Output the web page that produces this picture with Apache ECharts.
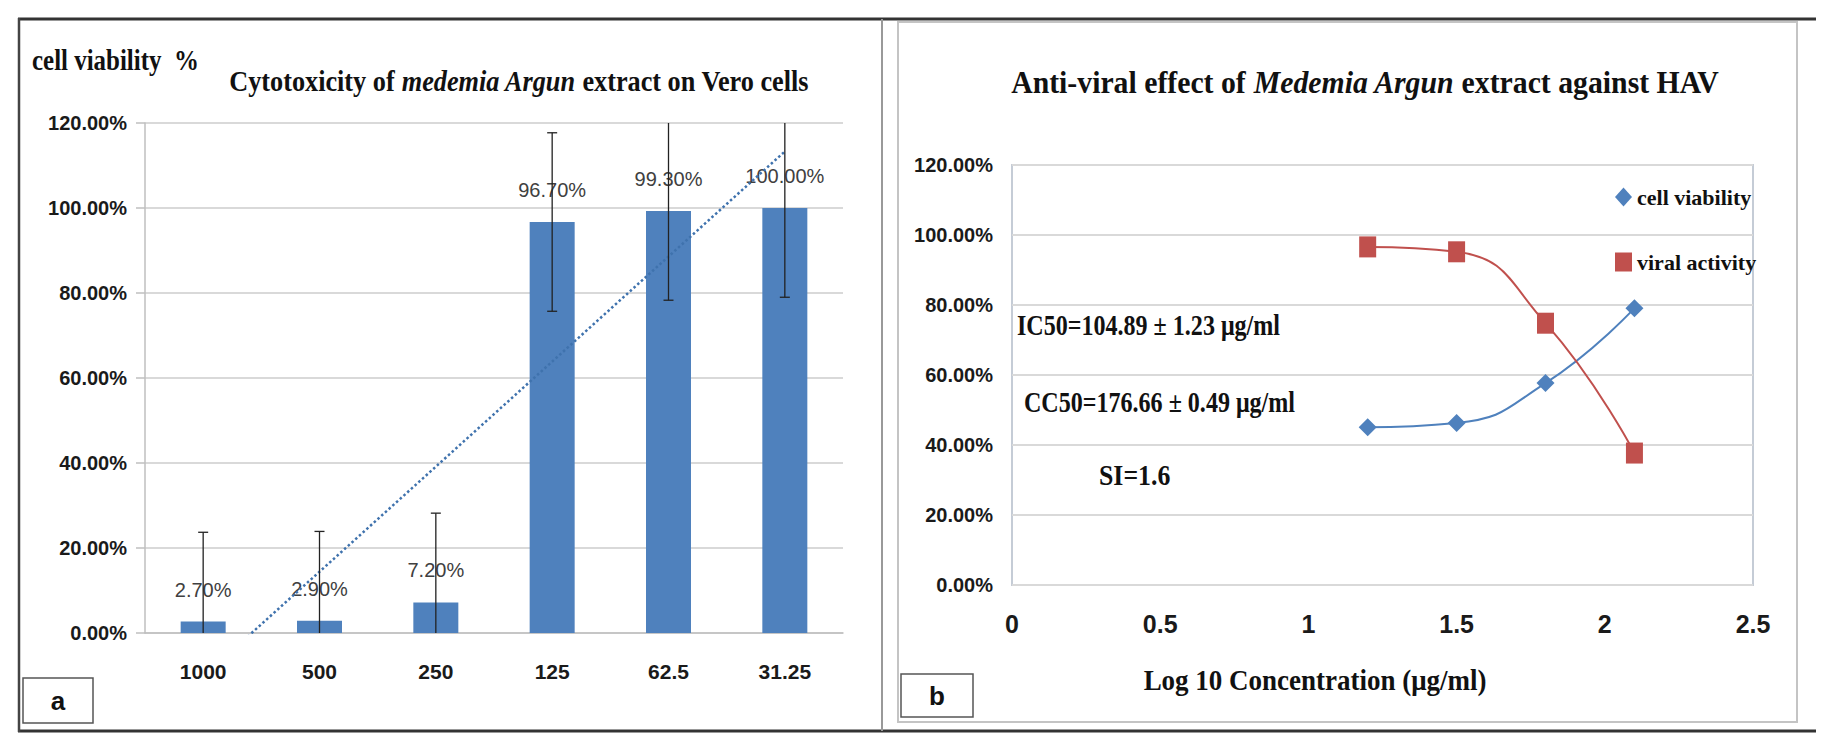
<!DOCTYPE html>
<html>
<head>
<meta charset="utf-8">
<title>Cytotoxicity and anti-viral effect</title>
<script src="https://cdn.jsdelivr.net/npm/echarts/dist/echarts.min.js"></script>
<style>
  html, body { margin: 0; padding: 0; background: #fff; }
  #main { width: 1831px; height: 750px; }
</style>
</head>
<body>
<div id="main"></div>
<script>
// panel a : cytotoxicity on Vero cells
var concLabels = ['1000', '500', '250', '125', '62.5', '31.25'];
var cellViability = [2.7, 2.9, 7.2, 96.7, 99.3, 100];
var errorSize = [21, 21, 21, 21, 21, 21];
// dotted linear trend line, end points (category index, %)
var trendX = [1, 6];
var trendY = [-10.3, 113.3];

// panel b : anti-viral effect against HAV
var logConc = [1.2, 1.5, 1.8, 2.1];
var viabilityPct = [45.1, 46.3, 57.7, 79.1];
var viralPct = [96.6, 95.2, 74.8, 37.7];

var SERIF = "'Liberation Serif', 'Times New Roman', serif";
var SANS = "'Liberation Sans', Arial, sans-serif";
var BLUE = '#4F81BD';
var RED = '#C0504D';

function pct(v) {
    return v.toFixed(2) + '%';
}

// text drawn as graphic so it can be squeezed like the original figure
function label(text, x, y, size, align, sx, rich) {
    return {
        type: 'text',
        x: x,
        y: y,
        scaleX: sx,
        z: 10,
        style: {
            text: text,
            fill: '#111',
            fontFamily: SERIF,
            fontWeight: 'bold',
            fontSize: size,
            align: align,
            textAlign: align,
            verticalAlign: 'middle',
            textVerticalAlign: 'middle',
            rich: rich
        }
    };
}

function titleRich(size) {
    return {
        n: { fontFamily: SERIF, fontWeight: 'bold', fontSize: size, fill: '#111', color: '#111' },
        i: { fontFamily: SERIF, fontWeight: 'bold', fontStyle: 'italic', fontSize: size, fill: '#111', color: '#111' }
    };
}

function frameGraphics() {
    var line = function (x1, y1, x2, y2, color, w) {
        return { type: 'line', shape: { x1: x1, y1: y1, x2: x2, y2: y2 }, style: { stroke: color, lineWidth: w }, z: 1 };
    };
    var tag = function (txt, x, y, w, h) {
        return {
            type: 'group',
            children: [
                { type: 'rect', shape: { x: x, y: y, width: w, height: h }, style: { fill: '#fff', stroke: '#555', lineWidth: 1.5 } },
                { type: 'text', x: x + w / 2, y: y + h / 2, style: { text: txt, fill: '#111', fontFamily: SANS, fontWeight: 'bold', fontSize: 26, align: 'center', textAlign: 'center', verticalAlign: 'middle', textVerticalAlign: 'middle' } }
            ],
            z: 5
        };
    };
    return [
        line(18, 19, 1816, 19, '#333', 3),
        line(18, 731, 1816, 731, '#333', 3),
        line(19, 18, 19, 732, '#444', 2.5),
        line(882, 19, 882, 731, '#999', 2),
        { type: 'rect', shape: { x: 898, y: 22, width: 899, height: 700 }, style: { fill: 'none', stroke: '#c4c4c4', lineWidth: 2 }, z: 1 },
        tag('a', 23, 678, 70, 45),
        tag('b', 901, 674, 72, 43),

        label('cell viability  %', 32, 60, 29, 'left', 0.86),
        label('{n|Cytotoxicity of }{i|medemia Argun}{n| extract on Vero cells}', 519, 81, 30, 'center', 0.875, titleRich(30)),
        label('{n|Anti-viral effect of }{i|Medemia Argun}{n| extract against HAV}', 1365, 83, 31, 'center', 0.96, titleRich(31)),
        label('IC50=104.89 \u00b1 1.23 \u03bcg/ml', 1017, 325, 29, 'left', 0.83),
        label('CC50=176.66 \u00b1 0.49 \u03bcg/ml', 1024, 402, 29, 'left', 0.83),
        label('SI=1.6', 1099, 475, 30, 'left', 0.86),
        label('Log 10 Concentration (\u03bcg/ml)', 1315, 680, 30, 'center', 0.9)
    ];
}

function errorBarItem(params, api) {
    var idx = api.value(0);
    var v = api.value(1);
    var e = api.value(2);
    var top = api.coord([idx, v + e]);
    var bot = api.coord([idx, v - e]);
    var hw = 5;
    var st = { stroke: '#222', lineWidth: 1.3 };
    return {
        type: 'group',
        children: [
            { type: 'line', shape: { x1: top[0], y1: top[1], x2: bot[0], y2: bot[1] }, style: st },
            { type: 'line', shape: { x1: top[0] - hw, y1: top[1], x2: top[0] + hw, y2: top[1] }, style: st },
            { type: 'line', shape: { x1: bot[0] - hw, y1: bot[1], x2: bot[0] + hw, y2: bot[1] }, style: st }
        ]
    };
}

function yAxisOpt(grid, withLine) {
    return {
        type: 'value',
        gridIndex: grid,
        min: 0,
        max: 120,
        interval: 20,
        axisLine: { show: withLine, lineStyle: { color: '#bfbfbf', width: 1.5 } },
        axisTick: { show: withLine, length: 9, lineStyle: { color: '#bfbfbf', width: 1.5 } },
        splitLine: { lineStyle: { color: '#d9d9d9', width: 2 } },
        axisLabel: {
            margin: withLine ? 18 : 19,
            fontFamily: SANS,
            fontWeight: 'bold',
            fontSize: 20,
            color: '#1a1a1a',
            formatter: pct
        }
    };
}

function buildOption() {
    var errData = concLabels.map(function (c, i) {
        return [i, cellViability[i], errorSize[i]];
    });
    var trendData = trendX.map(function (x, i) {
        return [x, trendY[i]];
    });
    var viaData = logConc.map(function (x, i) { return [x, viabilityPct[i]]; });
    var virData = logConc.map(function (x, i) { return [x, viralPct[i]]; });

    return {
        backgroundColor: '#fff',
        animation: false,
        grid: [
            { left: 145, top: 123, width: 698, height: 510 },
            { left: 1012, top: 165, width: 741, height: 420, show: true, borderColor: '#c5ccd6', borderWidth: 2, backgroundColor: 'transparent' }
        ],
        xAxis: [
            {
                type: 'category',
                gridIndex: 0,
                data: concLabels,
                axisLine: { lineStyle: { color: '#bfbfbf', width: 1.5 } },
                axisTick: { length: 9, lineStyle: { color: '#bfbfbf', width: 1.5 } },
                axisLabel: { margin: 28, fontFamily: SANS, fontWeight: 'bold', fontSize: 21, color: '#1a1a1a' }
            },
            // hidden value axis in panel a, used by the trend line
            { type: 'value', gridIndex: 0, min: 0.5, max: 6.5, show: false },
            {
                type: 'value',
                gridIndex: 1,
                min: 0,
                max: 2.5,
                interval: 0.5,
                axisLine: { show: false },
                axisTick: { show: false },
                splitLine: { show: false },
                axisLabel: { margin: 26, fontFamily: SANS, fontWeight: 'bold', fontSize: 25, color: '#1a1a1a' }
            }
        ],
        yAxis: [yAxisOpt(0, true), yAxisOpt(1, false)],
        legend: {
            orient: 'vertical',
            left: 1610,
            top: 181,
            itemGap: 43,
            itemWidth: 17,
            itemHeight: 19,
            textStyle: { fontFamily: SERIF, fontWeight: 'bold', fontSize: 22, color: '#111' },
            data: [
                { name: 'cell viability', icon: 'diamond' },
                { name: 'viral activity', icon: 'rect' }
            ]
        },
        series: [
            {
                name: 'cytotoxicity',
                type: 'bar',
                xAxisIndex: 0,
                yAxisIndex: 0,
                barWidth: 45,
                itemStyle: { color: BLUE },
                label: {
                    show: true,
                    position: 'top',
                    distance: 22,
                    fontFamily: SANS,
                    fontSize: 20,
                    color: '#404040',
                    formatter: function (p) { return pct(p.value); }
                },
                data: cellViability
            },
            {
                name: 'trend',
                type: 'line',
                xAxisIndex: 1,
                yAxisIndex: 0,
                symbol: 'none',
                clip: true,
                z: 4,
                lineStyle: { color: '#3f72ad', width: 2.5, type: 'dotted' },
                data: trendData
            },
            {
                name: 'error',
                type: 'custom',
                xAxisIndex: 0,
                yAxisIndex: 0,
                clip: true,
                z: 5,
                renderItem: errorBarItem,
                data: errData
            },
            {
                name: 'cell viability',
                type: 'line',
                xAxisIndex: 2,
                yAxisIndex: 1,
                smooth: 0.5,
                symbol: 'diamond',
                symbolSize: 18,
                color: BLUE,
                itemStyle: { color: BLUE },
                lineStyle: { color: BLUE, width: 2 },
                data: viaData
            },
            {
                name: 'viral activity',
                type: 'line',
                xAxisIndex: 2,
                yAxisIndex: 1,
                smooth: 0.5,
                symbol: 'rect',
                symbolSize: [17, 21],
                color: RED,
                itemStyle: { color: RED },
                lineStyle: { color: RED, width: 2 },
                data: virData
            }
        ],
        graphic: frameGraphics()
    };
}

var chart = echarts.init(document.getElementById('main'), null, { renderer: 'svg' });
chart.setOption(buildOption());
</script>
</body>
</html>
